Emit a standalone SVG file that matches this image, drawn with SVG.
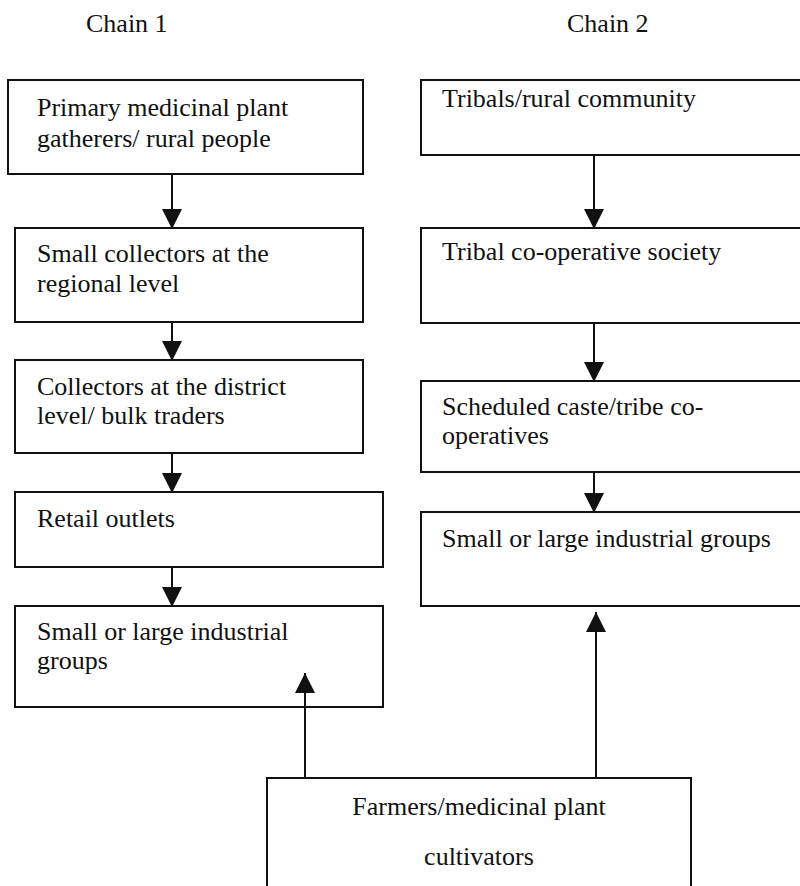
<svg xmlns="http://www.w3.org/2000/svg" width="800" height="886" viewBox="0 0 800 886">
<defs>
<style>
text{font-family:"Liberation Serif","Times New Roman",serif;font-size:26px;fill:#111}
.box{fill:#fff;stroke:#111;stroke-width:2}
.ln{stroke:#111;stroke-width:2;fill:none}
.ah{fill:#111}
</style>
<marker id="arr" viewBox="0 0 20 20" refX="20" refY="10" markerWidth="20" markerHeight="20" markerUnits="userSpaceOnUse" orient="auto">
<path d="M0,0 L20,10 L0,20 Z" class="ah"/>
</marker>
</defs>
<rect width="800" height="886" fill="#fff"/>
<g id="headers">
<text x="86" y="32">Chain 1</text>
<text x="567" y="32">Chain 2</text>
</g>
<g id="n1"><rect class="box" x="8" y="80" width="355" height="94"/><text x="37" y="116">Primary medicinal plant</text><text x="37" y="147">gatherers/ rural people</text></g>
<g id="n2"><rect class="box" x="15" y="228" width="348" height="94"/><text x="37" y="262">Small collectors at the</text><text x="37" y="292">regional level</text></g>
<g id="n3"><rect class="box" x="15" y="360" width="348" height="93"/><text x="37" y="395">Collectors at the district</text><text x="37" y="424">level/ bulk traders</text></g>
<g id="n4"><rect class="box" x="15" y="492" width="368" height="75"/><text x="37" y="527">Retail outlets</text></g>
<g id="n5"><rect class="box" x="15" y="606" width="368" height="101"/><text x="37" y="640">Small or large industrial</text><text x="37" y="669">groups</text></g>
<g id="r1"><rect class="box" x="421" y="80" width="390" height="75"/><text x="442" y="107">Tribals/rural community</text></g>
<g id="r2"><rect class="box" x="421" y="228" width="390" height="95"/><text x="442" y="260">Tribal co-operative society</text></g>
<g id="r3"><rect class="box" x="421" y="381" width="390" height="91"/><text x="442" y="415">Scheduled caste/tribe co-</text><text x="442" y="444">operatives</text></g>
<g id="r4"><rect class="box" x="421" y="512" width="390" height="94"/><text x="442" y="547">Small or large industrial groups</text></g>
<g id="farmers"><rect class="box" x="267" y="778" width="424" height="120"/><text x="479" y="815" text-anchor="middle">Farmers/medicinal plant</text><text x="479" y="865" text-anchor="middle">cultivators</text></g>
<g id="connectors">
<line class="ln" x1="172" y1="174" x2="172" y2="229" marker-end="url(#arr)"/>
<line class="ln" x1="172" y1="322" x2="172" y2="361" marker-end="url(#arr)"/>
<line class="ln" x1="172" y1="453" x2="172" y2="493" marker-end="url(#arr)"/>
<line class="ln" x1="172" y1="567" x2="172" y2="607" marker-end="url(#arr)"/>
<line class="ln" x1="594" y1="155" x2="594" y2="229" marker-end="url(#arr)"/>
<line class="ln" x1="594" y1="323" x2="594" y2="382" marker-end="url(#arr)"/>
<line class="ln" x1="594" y1="472" x2="594" y2="513" marker-end="url(#arr)"/>
<line class="ln" x1="596" y1="778" x2="596" y2="612" marker-end="url(#arr)"/>
<line class="ln" x1="305" y1="778" x2="305" y2="673" marker-end="url(#arr)"/>
</g>
</svg>
